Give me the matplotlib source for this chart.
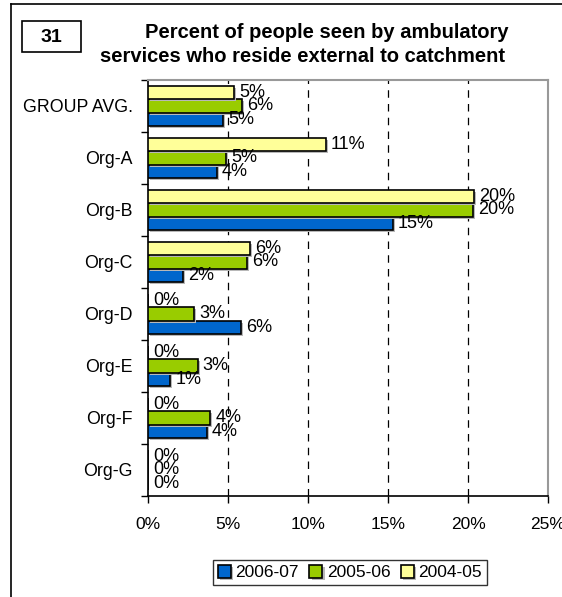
import matplotlib
matplotlib.use("Agg")
import matplotlib.pyplot as plt
import matplotlib.patheffects as pe
from matplotlib.patches import Rectangle
from matplotlib.lines import Line2D
import numpy as np

plt.rcParams['font.family'] = ['Liberation Sans', 'DejaVu Sans']

categories = ["GROUP AVG.", "Org-A", "Org-B", "Org-C", "Org-D", "Org-E", "Org-F", "Org-G"]
s_2006_07 = [4.7, 4.3, 15.3, 2.2, 5.8, 1.4, 3.7, 0.0]
s_2005_06 = [5.9, 4.9, 20.3, 6.2, 2.9, 3.1, 3.9, 0.0]
s_2004_05 = [5.4, 11.1, 20.4, 6.4, 0.0, 0.0, 0.0, 0.0]
series_names = ["2006-07", "2005-06", "2004-05"]
colors = ["#0066CC", "#99CC00", "#FFFF99"]
xticks = [0, 5, 10, 15, 20, 25]

W, H = 562, 597
fig = plt.figure(figsize=(W / 100, H / 100), dpi=100)
ax = fig.add_axes([148 / W, 1 - 496 / H, 400 / W, 416 / H])

y = np.arange(len(categories))
h = 0.256
offsets = [h, 0.0, -h]
shadow = [pe.SimplePatchShadow(offset=(1.5, -1.5), shadow_rgbFace='#b8b8b8', alpha=1.0), pe.Normal()]
for vals, name, col, off in zip([s_2006_07, s_2005_06, s_2004_05], series_names, colors, offsets):
    bars = ax.barh(y + off, vals, height=h, color=col, edgecolor='black', linewidth=1.2,
                   label=name, zorder=3)
    for b, v in zip(bars, vals):
        if v > 0:
            b.set_path_effects(shadow)
        ax.annotate(f"{v:.0f}%", xy=(v, b.get_y() + h / 2),
                    xytext=(3.5, 0), textcoords='offset points', va='center', ha='left',
                    fontsize=13, zorder=5)

ax.set_xlim(0, 25)
ax.set_ylim(len(categories) - 0.5, -0.5)
ax.set_xticks(xticks)
ax.set_xticklabels([f"{t}%" for t in xticks], fontsize=12.5)
ax.tick_params(axis='x', length=5, width=1, pad=10, direction='out')
ax.set_yticks(y)
ax.set_yticklabels(categories, fontsize=12.8)
ax.tick_params(axis='y', which='major', length=0, pad=11)
ax.set_yticks(np.arange(-0.5, len(categories) + 0.5, 1), minor=True)
ax.tick_params(axis='y', which='minor', length=5, width=1, direction='out')

for t in xticks[1:-1]:
    ax.axvline(t, color='black', linestyle=(0, (6, 5)), linewidth=0.9, zorder=1)

ax.spines['left'].set_color('black')
ax.spines['left'].set_linewidth(1.2)
ax.spines['bottom'].set_color('black')
ax.spines['bottom'].set_linewidth(1.2)
ax.spines['top'].set_color('#999999')
ax.spines['top'].set_linewidth(1.5)
ax.spines['right'].set_color('#999999')
ax.spines['right'].set_linewidth(1.5)

# Outer frame (top and left)
fig.add_artist(Line2D([11 / W, 1.0], [1 - 4 / H, 1 - 4 / H], color='black', linewidth=1.2,
                      transform=fig.transFigure))
fig.add_artist(Line2D([11 / W, 11 / W], [1 - 4 / H, 0.0], color='black', linewidth=1.2,
                      transform=fig.transFigure))

# Chart number box
fig.add_artist(Rectangle((22 / W, 1 - 52 / H), 59 / W, 31 / H, transform=fig.transFigure,
                         facecolor='white', edgecolor='black', linewidth=1.2))
fig.text(51.5 / W, 1 - 37 / H, "31", ha='center', va='center', fontsize=14, fontweight='bold')

fig.text(327 / W, 1 - 32 / H, "Percent of people seen by ambulatory", ha='center', va='center',
         fontsize=14.5, fontweight='bold')
fig.text(303 / W, 1 - 56 / H, "services who reside external to catchment", ha='center',
         va='center', fontsize=14.5, fontweight='bold')

leg = fig.legend(loc='center', bbox_to_anchor=(350 / W, 1 - 572.5 / H), ncol=3, fontsize=12.5,
                 frameon=True, fancybox=False, edgecolor='black', handlelength=0.75,
                 handleheight=0.75, handletextpad=0.25, columnspacing=0.6, borderpad=0.3,
                 borderaxespad=0)
leg.get_frame().set_linewidth(1.0)

fig.savefig("out.png", dpi=100)
